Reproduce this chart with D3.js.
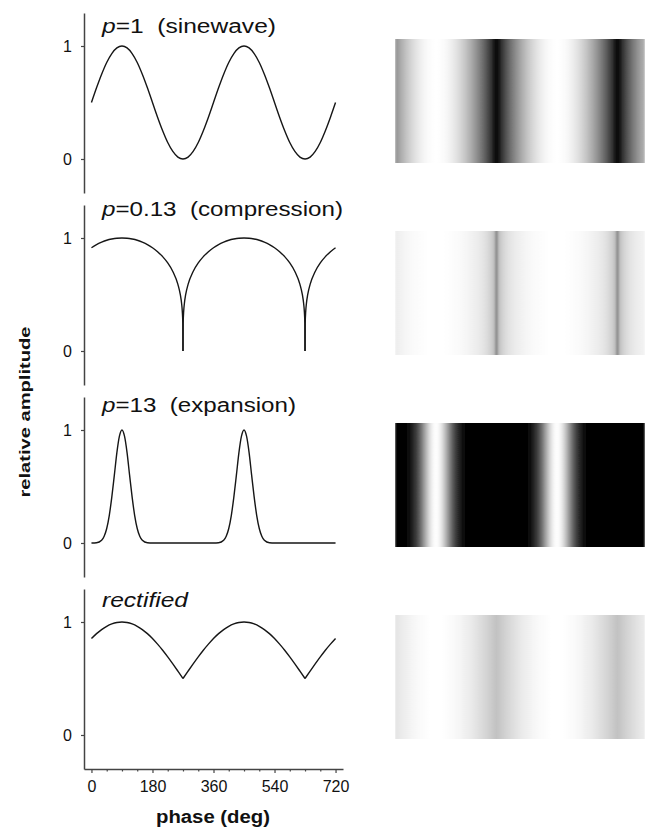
<!DOCTYPE html>
<html>
<head>
<meta charset="utf-8">
<script src="https://cdn.jsdelivr.net/npm/d3@7"></script>
<style>
body { margin: 0; background: #fff; }
svg { display: block; font-family: "Liberation Sans", Arial, Helvetica, sans-serif; }
</style>
</head>
<body>
<svg id="fig" width="652" height="831"></svg>
<script>
// values (relative amplitude vs phase in deg)
var sinePhase = [-30,-15,0,15,30,45,60,75,90,105,120,135,150,165,180,195,210,225,240,255,270,285,300,315,330,345,
                 360,375,390,405,420,435,450,465,480,495,510,525,540,555,570,585,600,615,630,645,660,675,690,705,720];
var sineValue = [.25,.37,.5,.63,.75,.854,.933,.983,1,.983,.933,.854,.75,.63,.5,.37,.25,.146,.067,.017,0,.017,.067,.146,.25,.37,
                 .5,.63,.75,.854,.933,.983,1,.983,.933,.854,.75,.63,.5,.37,.25,.146,.067,.017,0,.017,.067,.146,.25,.37,.5];

var compPhase = [-30,-15,0,15,30,45,60,75,90,105,120,135,150,165,180,195,210,225,240,255,262,266,268,269.5,270,270.5,272,274,278,285,300,315,330,345,
                 360,375,390,405,420,435,450,465,480,495,510,525,540,555,570,585,600,615,622,626,628,629.5,630,630.5,632,634,638,645,660,675,690,705,720];
var compValue = [.835,.879,.914,.942,.963,.980,.991,.998,1,.998,.991,.980,.963,.942,.914,.879,.835,.779,.704,.589,.50,.418,.349,.243,0,.243,.349,.418,.50,.589,.704,.779,.835,.879,
                 .914,.942,.963,.980,.991,.998,1,.998,.991,.980,.963,.942,.914,.879,.835,.779,.704,.589,.50,.418,.349,.243,0,.243,.349,.418,.50,.589,.704,.779,.835,.879,.914];

var expPhase = [-30,-15,0,15,30,37.5,45,52.5,60,67.5,75,82.5,90,97.5,105,112.5,120,127.5,135,142.5,150,165,180,270,
                360,375,390,397.5,405,412.5,420,427.5,435,442.5,450,457.5,465,472.5,480,487.5,495,502.5,510,525,540,630,720];
var expValue = [0,0,0,.002,.024,.059,.128,.243,.406,.60,.80,.945,1,.945,.80,.60,.406,.243,.128,.059,.024,.002,0,0,
                0,.002,.024,.059,.128,.243,.406,.60,.80,.945,1,.945,.80,.60,.406,.243,.128,.059,.024,.002,0,0,0];

var rectPhase = sinePhase.slice();
var rectValue = [.75,.804,.854,.897,.933,.962,.983,.996,1,.996,.983,.962,.933,.897,.854,.804,.75,.691,.629,.565,.5,.565,.629,.691,.75,.804,
                 .854,.897,.933,.962,.983,.996,1,.996,.983,.962,.933,.897,.854,.804,.75,.691,.629,.565,.5,.565,.629,.691,.75,.804,.854];

var titleItalic = ["p", "p", "p", "rectified"];
var titleRest = ["=1\u00a0\u00a0(sinewave)", "=0.13\u00a0\u00a0(compression)", "=13\u00a0\u00a0(expansion)", ""];
var cuspPhases = [[], [270, 630], [], [270, 630]];

var xTicks = [0,45,90,135,180,225,270,315,360,405,450,495,540,585,630,675,720];
var xLabelEvery = 180;
var yTicks = [0, 1];

var panels = [
  {phase: sinePhase, value: sineValue},
  {phase: compPhase, value: compValue},
  {phase: expPhase, value: expValue},
  {phase: rectPhase, value: rectValue}
];

// layout
var step = 192;
var titleBase = [33, 216, 412, 607];
var titleWidth = [174, 241, 194, 86];

var svg = d3.select("#fig");
var defs = svg.append("defs");

// soften the strips a little sideways, like the printed image
defs.append("filter").attr("id", "soft")
  .attr("x", 0).attr("y", 0).attr("width", 1).attr("height", 1)
  .append("feGaussianBlur").attr("stdDeviation", "1.1 0").attr("edgeMode", "duplicate");

var x = d3.scaleLinear().domain([-22, 742]).range([84, 343]);
var stripOff = d3.scaleLinear().domain([-32, 712]).range([0, 1]);
var stripLeft = 395, stripWidth = 250;
var gray = d3.scalePow().exponent(0.4).domain([0, 1]).range(["#000", "#fff"]).clamp(true);

var line = d3.line()
  .x(function(d) { return x(d[0]); })
  .y(function(d) { return d[2](d[1]); })
  .curve(d3.curveMonotoneX);

panels.forEach(function(pn, i) {
  var top = 13 + step * i;
  var y = d3.scaleLinear().domain([-0.301, 1.292]).range([top + 180, top]);
  var g = svg.append("g");

  // y axis
  var ya = g.append("g").attr("transform", "translate(84,0)")
    .call(d3.axisLeft(y).tickValues(yTicks).tickSize(3).tickSizeOuter(0).tickPadding(9).tickFormat(d3.format("d")));
  ya.attr("font-size", 16).attr("font-family", null);
  ya.select(".domain").attr("stroke", "#444").attr("stroke-width", 1.5);
  ya.selectAll(".tick line").attr("stroke", "#444").attr("stroke-width", 1.2);
  ya.selectAll(".tick text").style("font-size", "16px").attr("fill", "#111");

  // curve, split at cusps so they stay sharp
  var pts = pn.phase.map(function(ph, k) { return [ph, pn.value[k], y]; })
    .filter(function(d) { return d[0] >= 0 && d[0] <= 720; });
  var cuts = [0].concat(cuspPhases[i]).concat([720]);
  for (var c = 0; c < cuts.length - 1; c++) {
    var seg = pts.filter(function(d) { return d[0] >= cuts[c] && d[0] <= cuts[c + 1]; });
    g.append("path").attr("d", line(seg)).attr("fill", "none")
      .attr("stroke", "#161616").attr("stroke-width", 1.4);
  }

  // title
  var t = g.append("text").attr("x", 102).attr("y", titleBase[i])
    .attr("font-size", 20).attr("fill", "#111")
    .attr("textLength", titleWidth[i]).attr("lengthAdjust", "spacingAndGlyphs");
  t.append("tspan").attr("font-style", "italic").text(titleItalic[i]);
  if (titleRest[i]) t.append("tspan").text(titleRest[i]);

  // gray-level strip
  var grad = defs.append("linearGradient").attr("id", "strip" + i)
    .attr("x1", 0).attr("x2", 1).attr("y1", 0).attr("y2", 0);
  pn.phase.forEach(function(ph, k) {
    if (ph < stripOff.domain()[0] || ph > stripOff.domain()[1]) return;
    grad.append("stop").attr("offset", stripOff(ph)).attr("stop-color", gray(pn.value[k]));
  });
  g.append("rect").attr("x", stripLeft).attr("y", y(1) - 7)
    .attr("width", stripWidth).attr("height", 124)
    .attr("fill", "url(#strip" + i + ")")
    .attr("filter", "url(#soft)");

  // x axis on the last panel only
  if (i === panels.length - 1) {
    var xa = g.append("g").attr("transform", "translate(0," + (top + 180) + ")")
      .call(d3.axisBottom(x).tickValues(xTicks).tickSize(4).tickSizeOuter(0).tickPadding(8)
        .tickFormat(function(d) { return d % xLabelEvery === 0 ? d : ""; }));
    xa.attr("font-size", 16).attr("font-family", null);
    xa.select(".domain").attr("stroke", "#444").attr("stroke-width", 1.5);
    xa.selectAll(".tick line").attr("stroke", "#444").attr("stroke-width", 1.2)
      .attr("y2", function(d) { return d % xLabelEvery === 0 ? 4 : 2.5; });
    xa.selectAll(".tick text").style("font-size", "16px").attr("fill", "#111");
  }
});

svg.append("text").attr("x", 213).attr("y", 823).attr("text-anchor", "middle")
  .attr("font-size", 18).attr("font-weight", "bold").attr("fill", "#111")
  .attr("textLength", 114).attr("lengthAdjust", "spacingAndGlyphs")
  .text("phase (deg)");

svg.append("text").attr("transform", "translate(30,412) rotate(-90)").attr("text-anchor", "middle")
  .attr("font-size", 15.5).attr("font-weight", "bold").attr("fill", "#111")
  .attr("textLength", 171).attr("lengthAdjust", "spacingAndGlyphs")
  .text("relative amplitude");
</script>
</body>
</html>
